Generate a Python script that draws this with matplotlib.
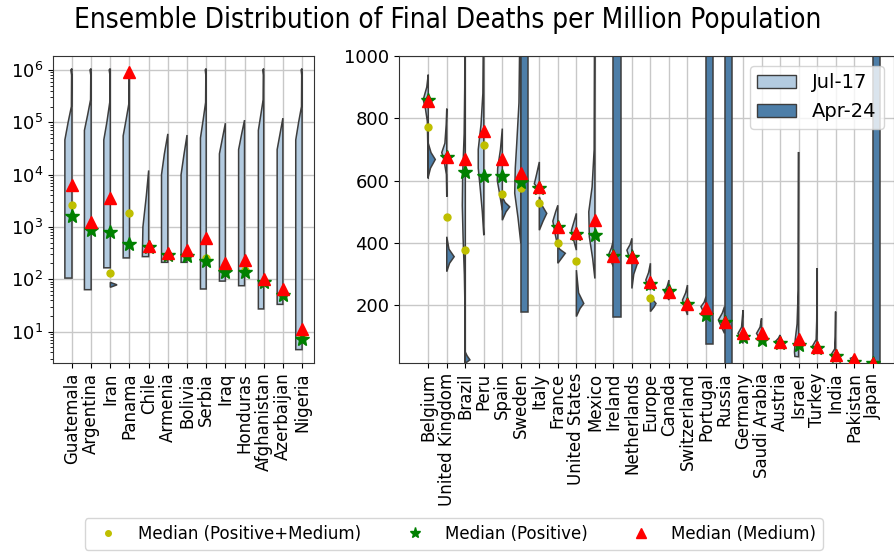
import numpy as np
import matplotlib.pyplot as plt
from matplotlib.patches import Patch
from matplotlib.lines import Line2D

# ============================================================
# DATA
# ============================================================

LEFT_COUNTRIES = ["Guatemala", "Argentina", "Iran", "Panama", "Chile", "Armenia",
                  "Bolivia", "Serbia", "Iraq", "Honduras", "Afghanistan",
                  "Azerbaijan", "Nigeria"]
LEFT_MED_ALL = [2600, 950, 130, 1870, 420, 290, 280, 250, 150, 150, 90, 50, 8]
LEFT_MED_POS = [1580, 870, 810, 475, 420, 290, 280, 220, 140, 140, 90, 50, 7.2]
LEFT_MED_MED = [6300, 1260, 3600, 9.3e5, 440, 315, 365, 600, 205, 235, 100, 65, 11]

# Jul-17 half violins, (value, half width) from bottom to top
LEFT_JUL17_SHAPES = [
    [(105, 0.37), (4.6e4, 0.37), (1e5, 0.2), (2e5, 0.03), (8e5, 0.02), (1e6, 0.06), (1.06e6, 0)],
    [(63, 0.35), (7e4, 0.35), (1.4e5, 0.18), (2.7e5, 0.03), (8e5, 0.02), (1e6, 0.06), (1.06e6, 0)],
    [(165, 0.34), (4.6e4, 0.34), (1e5, 0.18), (2.4e5, 0.03), (8e5, 0.02), (1e6, 0.06), (1.06e6, 0)],
    [(255, 0.33), (5.5e4, 0.33), (1.1e5, 0.18), (2.3e5, 0.03), (8e5, 0.02), (1e6, 0.05), (1.06e6, 0)],
    [(270, 0.33), (1000, 0.3), (4000, 0.12), (1.2e4, 0)],
    [(210, 0.33), (1e4, 0.33), (2.5e4, 0.18), (6e4, 0)],
    [(210, 0.31), (1e4, 0.31), (2.4e4, 0.16), (5.7e4, 0)],
    [(65, 0.3), (5e4, 0.3), (1.1e5, 0.16), (2.4e5, 0.03), (8e5, 0.02), (1e6, 0.05), (1.06e6, 0)],
    [(92, 0.31), (2.5e4, 0.31), (5e4, 0.15), (9.6e4, 0)],
    [(75, 0.31), (3e4, 0.31), (6e4, 0.15), (1.1e5, 0)],
    [(27, 0.28), (7e4, 0.28), (1.4e5, 0.15), (2.7e5, 0.03), (8e5, 0.02), (1e6, 0.05), (1.06e6, 0)],
    [(33, 0.3), (3e4, 0.3), (6e4, 0.15), (1.2e5, 0)],
    [(4.5, 0.33), (4.6e4, 0.33), (1e5, 0.18), (2e5, 0.03), (8e5, 0.02), (1e6, 0.05), (1.06e6, 0)],
]
# Apr-24 half violins on the left panel (index -> shape)
LEFT_APR24_SHAPES = {2: [(70, 0), (78, 0.35), (87, 0)]}

RIGHT_COUNTRIES = ["Belgium", "United Kingdom", "Brazil", "Peru", "Spain", "Sweden",
                   "Italy", "France", "United States", "Mexico", "Ireland",
                   "Netherlands", "Europe", "Canada", "Switzerland", "Portugal",
                   "Russia", "Germany", "Saudi Arabia", "Austria", "Israel",
                   "Turkey", "India", "Pakistan", "Japan"]
RIGHT_MED_ALL = [773, 484, 377, 714, 557, 575, 529, 399, 343, 425, 358, 355, 225,
                 243, 205, 180, 145, 105, 100, 80, 75, 62, 38, 20, 14]
RIGHT_MED_POS = [858, 675, 628, 614, 614, 596, 575, 452, 430, 425, 358, 355, 270,
                 245, 203, 169, 145, 99, 89, 78, 73, 62, 38, 19, 14]
RIGHT_MED_MED = [855, 676, 671, 759, 669, 623, 580, 452, 431, 473, 358, 356, 274,
                 244, 203, 192, 146, 110, 110, 83, 91, 67, 41, 27, 14]

RIGHT_JUL17_SHAPES = [
    [(607, 0), (700, 0.02), (790, 0.05), (830, 0.15), (860, 0.27), (900, 0.08), (940, 0)],
    [(548, 0), (620, 0.02), (666, 0.15), (690, 0.27), (720, 0.1), (780, 0.03), (831, 0)],
    [(15, 0), (200, 0.02), (300, 0.05), (420, 0.12), (520, 0.16), (620, 0.14), (750, 0.06), (900, 0.03), (1100, 0.02)],
    [(425, 0), (500, 0.08), (580, 0.2), (640, 0.3), (700, 0.3), (780, 0.15), (880, 0.05), (1100, 0.02)],
    [(505, 0), (560, 0.15), (600, 0.27), (640, 0.25), (700, 0.1), (767, 0)],
    [(399, 0), (480, 0.15), (560, 0.33), (640, 0.3), (720, 0.22), (850, 0.1), (1100, 0.05)],
    [(570, 0), (590, 0.27), (620, 0.15), (660, 0)],
    [(388, 0), (430, 0.15), (470, 0.27), (500, 0.12), (521, 0)],
    [(377, 0), (410, 0.15), (440, 0.27), (470, 0.12), (495, 0)],
    [(286, 0), (350, 0.12), (420, 0.3), (500, 0.33), (580, 0.15), (700, 0.04), (1100, 0.02)],
    [(324, 0), (345, 0.15), (361, 0.27), (385, 0.1), (409, 0)],
    [(335, 0), (355, 0.15), (377, 0.27), (395, 0.1), (415, 0)],
    [(249, 0), (265, 0.15), (281, 0.25), (305, 0.1), (335, 0)],
    [(217, 0), (232, 0.15), (244, 0.25), (260, 0.1), (281, 0)],
    [(169, 0), (195, 0.15), (217, 0.27), (240, 0.1), (265, 0)],
    [(158, 0), (180, 0.15), (196, 0.27), (210, 0.1), (228, 0)],
    [(110, 0), (135, 0.2), (153, 0.33), (175, 0.12), (196, 0)],
    [(78, 0), (95, 0.15), (110, 0.27), (130, 0.08), (185, 0)],
    [(83, 0), (98, 0.15), (110, 0.27), (130, 0.08), (158, 0)],
    [(62, 0), (72, 0.15), (83, 0.27), (95, 0.08), (105, 0)],
    [(35, 0), (36, 0.2), (50, 0.22), (90, 0.18), (140, 0.08), (250, 0.02), (692, 0)],
    [(46, 0), (58, 0.15), (67, 0.27), (90, 0.05), (150, 0.02), (319, 0)],
    [(19, 0), (30, 0.15), (41, 0.25), (60, 0.05), (100, 0.02), (180, 0)],
    [(14, 0), (22, 0.15), (30, 0.2), (35, 0)],
    [(13, 0), (15, 0.1), (17, 0)],
]
RIGHT_APR24_SHAPES = {
    0: [(612, 0), (640, 0.12), (668, 0.38), (690, 0.15), (720, 0)],
    1: [(308, 0), (335, 0.15), (356, 0.4), (380, 0.12), (420, 0)],
    2: [(14, 0), (25, 0.25), (38, 0.1), (50, 0)],
    4: [(473, 0), (500, 0.2), (516, 0.4), (530, 0.15), (548, 0)],
    5: [(180, 0), (180, 0.4), (1100, 0.4), (1100, 0)],
    6: [(441, 0), (470, 0.2), (495, 0.4), (520, 0.15), (548, 0)],
    7: [(335, 0), (355, 0.25), (367, 0.4), (380, 0.1), (390, 0)],
    8: [(164, 0), (190, 0.2), (206, 0.4), (240, 0.12), (313, 0)],
    10: [(164, 0), (164, 0.4), (1100, 0.4), (1100, 0)],
    11: [(254, 0), (300, 0.1), (335, 0.3), (360, 0.1), (380, 0)],
    12: [(180, 0), (195, 0.2), (206, 0.3), (220, 0.1), (233, 0)],
    15: [(76, 0), (76, 0.4), (1100, 0.4), (1100, 0)],
    16: [(0, 0), (0, 0.4), (1100, 0.4), (1100, 0)],
    24: [(0, 0), (0, 0.4), (1100, 0.4), (1100, 0)],
}

LIGHT = "#b3cbe0"
DARK = "#4d7ea8"
EDGE = "#3d3d3d"


def half_violin(ax, x, shape, side, color):
    ys = [p[0] for p in shape]
    xs = [x + side * p[1] for p in shape]
    ax.fill([x] + xs + [x], [ys[0]] + ys + [ys[-1]],
            facecolor=color, edgecolor=EDGE, linewidth=1.1, zorder=2)


def draw_panel(ax, names, jul, apr, med_all, med_pos, med_med):
    pos = np.arange(len(names))
    for i, shape in enumerate(jul):
        half_violin(ax, pos[i], shape, -1, LIGHT)
    for i, shape in apr.items():
        half_violin(ax, pos[i], shape, 1, DARK)
    ax.plot(pos, med_all, "o", color="y", markersize=5, zorder=3)
    ax.plot(pos, med_pos, "*", color="g", markersize=10, zorder=4)
    ax.plot(pos, med_med, "^", color="r", markersize=9, zorder=5)
    ax.set_xticks(pos)
    ax.set_xticklabels(names, rotation=90, fontsize=12)
    ax.tick_params(axis="y", labelsize=13)
    ax.grid(True, color="#c8c8c8", linewidth=1)
    ax.set_axisbelow(True)
    for sp in ax.spines.values():
        sp.set_color("#333333")


fig = plt.figure(figsize=(8.95, 5.52), dpi=100)
ax1 = fig.add_axes([0.0592, 0.3424, 0.2916, 0.5562])
ax2 = fig.add_axes([0.4458, 0.3424, 0.553, 0.5562])

draw_panel(ax1, LEFT_COUNTRIES, LEFT_JUL17_SHAPES, LEFT_APR24_SHAPES,
           LEFT_MED_ALL, LEFT_MED_POS, LEFT_MED_MED)
ax1.set_yscale("log")
ax1.set_ylim(2.5, 1.85e6)
ax1.set_xlim(-0.99, 12.62)

draw_panel(ax2, RIGHT_COUNTRIES, RIGHT_JUL17_SHAPES, RIGHT_APR24_SHAPES,
           RIGHT_MED_ALL, RIGHT_MED_POS, RIGHT_MED_MED)
ax2.set_ylim(15, 1000)
ax2.set_yticks([200, 400, 600, 800, 1000])
ax2.set_xlim(-1.58, 25.15)

ax2.legend(handles=[Patch(facecolor=LIGHT, edgecolor=EDGE, label="Jul-17"),
                    Patch(facecolor=DARK, edgecolor=EDGE, label="Apr-24")],
           loc="upper right", fontsize=14)

fig.suptitle("Ensemble Distribution of Final Deaths per Million Population",
             fontsize=20, fontstretch="condensed", y=0.99)

marker_handles = [
    Line2D([], [], ls="", marker="o", color="y", markersize=4, label="Median (Positive+Medium)"),
    Line2D([], [], ls="", marker="*", color="g", markersize=8, label="Median (Positive)"),
    Line2D([], [], ls="", marker="^", color="r", markersize=7, label="Median (Medium)"),
]
fig.legend(handles=marker_handles, loc="lower center", ncol=3, fontsize=12,
           bbox_to_anchor=(0.507, -0.011), columnspacing=2.2, frameon=True)

fig.savefig("out.png", dpi=100)
